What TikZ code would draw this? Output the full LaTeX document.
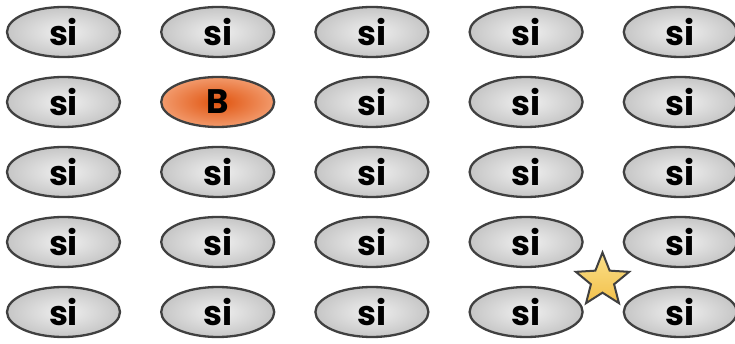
\documentclass[tikz,border=0pt]{standalone}
\usepackage{fontspec}
\setmainfont{Poppins}[BoldFont={* Bold}]
\usetikzlibrary{shapes.geometric}
\definecolor{edgegrey}{HTML}{404040}
\definecolor{cellin}{HTML}{F0F0F0}
\definecolor{cellout}{HTML}{C6C6C6}
\definecolor{orin}{HTML}{E0530E}
\definecolor{orout}{HTML}{F29A6C}
\definecolor{starin}{HTML}{FBE08A}
\definecolor{starout}{HTML}{F2C04A}
\tikzset{
  cell/.style={ellipse, draw=edgegrey, line width=2.3pt, minimum width=113pt, minimum height=50pt, inner sep=0pt,
    inner color=cellin, outer color=cellout, font=\fontsize{34}{34}\selectfont\bfseries},
  bcell/.style={cell, inner color=orin, outer color=orout},
  starshape/.style={star, star points=5, star point ratio=2.3, draw=edgegrey, line width=2pt, minimum size=56pt, inner sep=0pt,
    top color=starin, bottom color=starout}
}
\begin{document}
\begin{tikzpicture}[x=1pt,y=-1pt]
\useasboundingbox (0,0) rectangle (735,344);
\foreach \r in {1,...,5}{
  \foreach \c in {1,...,5}{
    \pgfmathsetmacro{\xx}{63.5+154.2*(\c-1)}
    \pgfmathsetmacro{\yy}{32+70*(\r-1)}
    \ifnum\r=2 \ifnum\c=2
      \node[bcell] (n\r\c) at (\xx,\yy) {B};
    \else
      \node[cell] (n\r\c) at (\xx,\yy) {si};
    \fi\else
      \node[cell] (n\r\c) at (\xx,\yy) {si};
    \fi
  }
}
\node[starshape] (st) at (602.5,280.5) {};
\end{tikzpicture}
\end{document}
